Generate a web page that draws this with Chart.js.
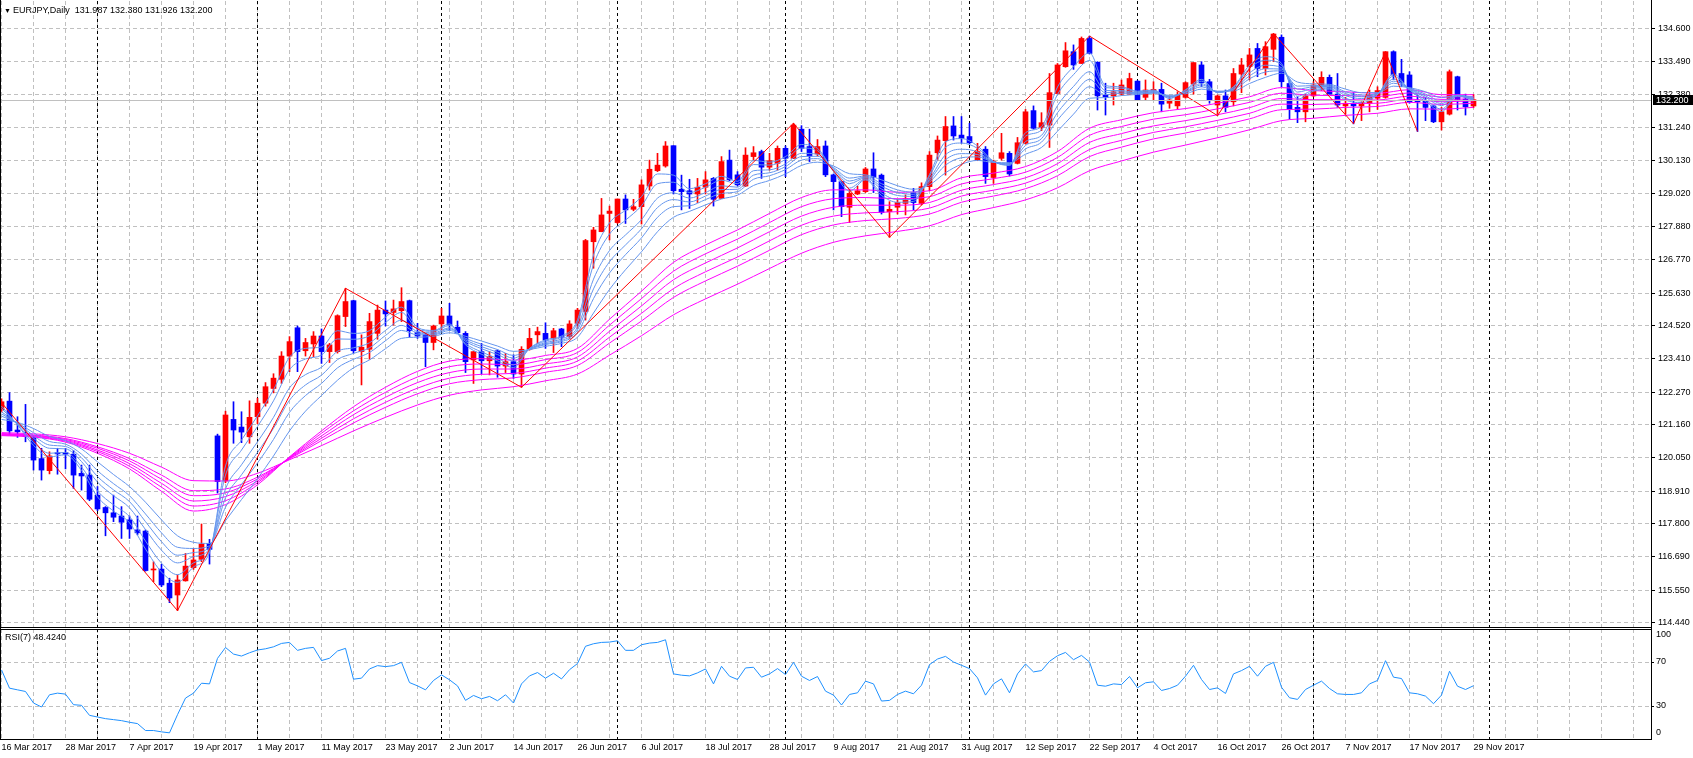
<!DOCTYPE html>
<html>
<head>
<meta charset="utf-8">
<title>EURJPY Daily</title>
<script src="https://cdn.jsdelivr.net/npm/chart.js@4.4.1/dist/chart.umd.min.js"></script>
<style>
  html, body { margin: 0; padding: 0; background: #fff; }
  #wrap { position: relative; width: 1693px; height: 758px; overflow: hidden; background: #fff; }
  #mainChart { position: absolute; left: 0; top: 0; }
  #rsiChart { position: absolute; left: 0; top: 628px; }
</style>
</head>
<body>
<div id="wrap">
  <canvas id="mainChart" width="1693" height="629"></canvas>
  <canvas id="rsiChart" width="1693" height="130"></canvas>
</div>
<script>
// EURJPY daily, 16 Mar 2017 .. 29 Nov 2017, one entry per bar
const open = [
  121.67, 121.97, 120.99, 120.82, 120.76, 120.02, 119.61, 120.22, 120.22, 120.17,
  119.52, 119.46, 118.78, 118.36, 118.18, 118.07, 117.94, 117.60, 117.56, 116.24,
  116.27, 115.79, 115.39, 115.87, 116.32, 116.60, 117.14, 120.79, 119.26, 121.35,
  121.09, 120.76, 121.44, 121.90, 122.40, 122.71, 123.50, 124.46, 123.68, 123.91,
  124.18, 123.65, 123.65, 124.84, 125.38, 123.65, 123.73, 124.27, 125.06, 124.98,
  125.04, 125.38, 124.31, 124.22, 123.96, 124.59, 124.86, 124.48, 124.27, 123.37,
  123.65, 123.34, 123.68, 123.16, 123.31, 122.89, 123.73, 124.22, 124.27, 124.10,
  124.42, 124.16, 124.61, 125.01, 127.38, 127.72, 128.34, 128.03, 128.83, 128.48,
  128.57, 129.27, 129.79, 129.95, 130.64, 129.16, 129.11, 129.00, 129.23, 129.53,
  128.85, 130.15, 129.65, 129.27, 130.27, 130.44, 129.91, 130.04, 130.55, 130.21,
  131.20, 130.61, 130.36, 130.63, 129.65, 129.42, 128.55, 129.00, 129.08, 129.85,
  129.64, 128.40, 128.55, 128.68, 129.05, 128.68, 129.25, 130.40, 130.81, 131.31,
  131.00, 130.95, 130.15, 130.52, 129.56, 130.21, 130.38, 130.04, 130.72, 131.83,
  131.26, 131.34, 132.41, 133.32, 133.83, 133.43, 134.28, 133.47, 132.35, 132.33,
  132.39, 132.39, 132.83, 132.28, 132.50, 132.55, 132.08, 131.99, 132.28, 132.73,
  133.38, 132.81, 132.02, 132.33, 132.13, 133.07, 133.32, 133.94, 133.26, 133.91,
  134.32, 132.75, 131.94, 131.79, 132.33, 132.66, 132.96, 132.39, 131.99, 132.05,
  131.99, 132.08, 132.25, 132.28, 133.83, 133.09, 133.04, 132.17, 132.17, 131.99,
  131.45, 131.71, 132.98, 132.22, 131.987
];
const high = [
  122.05, 122.26, 121.44, 121.86, 120.80, 120.37, 120.25, 120.37, 120.37, 120.29,
  119.80, 119.80, 119.07, 118.39, 118.78, 118.39, 118.07, 118.07, 117.60, 116.52,
  116.43, 115.96, 116.07, 116.80, 116.97, 117.80, 117.28, 120.85, 121.63, 121.95,
  121.61, 121.98, 122.07, 122.60, 122.90, 123.65, 124.16, 124.52, 124.10, 124.33,
  124.42, 123.93, 124.90, 125.80, 125.40, 124.22, 124.95, 125.23, 125.37, 125.40,
  125.82, 125.40, 124.61, 124.27, 124.55, 125.12, 125.29, 124.69, 124.33, 123.65,
  123.93, 123.65, 123.71, 123.59, 123.54, 123.82, 124.44, 124.48, 124.63, 124.44,
  124.44, 124.70, 125.12, 127.46, 127.87, 128.85, 128.59, 128.83, 128.97, 128.82,
  129.48, 130.15, 130.38, 130.78, 130.64, 129.64, 129.50, 129.53, 129.76, 129.56,
  130.27, 130.49, 129.76, 130.57, 130.61, 130.49, 130.38, 130.63, 130.63, 131.40,
  131.32, 131.20, 130.85, 130.80, 129.68, 129.42, 129.14, 129.27, 129.90, 130.40,
  129.68, 128.74, 128.82, 128.97, 129.19, 129.38, 130.44, 130.97, 131.63, 131.63,
  131.63, 131.40, 130.72, 130.61, 130.15, 131.06, 130.44, 130.92, 131.87, 131.99,
  131.76, 133.09, 133.43, 134.14, 134.06, 134.33, 134.36, 133.49, 132.76, 132.76,
  132.87, 133.10, 132.85, 132.87, 132.81, 132.76, 132.33, 132.47, 132.81, 133.46,
  133.49, 132.89, 132.36, 132.53, 133.26, 133.60, 133.94, 134.11, 134.17, 134.45,
  134.40, 132.87, 132.30, 132.39, 132.81, 133.15, 133.04, 133.09, 132.28, 132.44,
  132.13, 132.53, 132.64, 133.83, 133.86, 133.57, 133.15, 132.36, 132.28, 132.02,
  131.94, 133.21, 133.00, 132.39, 132.380
];
const low = [
  121.60, 120.82, 120.74, 120.59, 119.63, 119.29, 119.50, 119.49, 119.67, 119.01,
  118.95, 118.59, 118.25, 117.40, 117.88, 117.31, 117.31, 117.43, 116.20, 115.84,
  115.67, 115.13, 114.86, 115.86, 116.26, 116.52, 116.44, 118.85, 119.20, 120.54,
  120.56, 120.54, 121.20, 121.80, 122.25, 122.57, 122.97, 122.97, 123.50, 123.48,
  123.25, 123.28, 123.60, 124.50, 123.60, 122.52, 123.39, 124.07, 124.52, 124.55,
  124.67, 124.14, 124.10, 123.14, 123.71, 124.38, 124.38, 124.27, 122.94, 122.57,
  122.89, 122.86, 122.78, 122.94, 122.74, 122.44, 123.70, 123.93, 123.76, 123.62,
  123.82, 124.10, 124.44, 124.72, 126.48, 127.72, 127.44, 128.00, 128.00, 128.43,
  127.98, 129.13, 129.76, 129.91, 129.00, 128.46, 128.51, 128.71, 129.00, 128.59,
  128.85, 129.45, 129.27, 129.25, 130.15, 129.53, 129.81, 129.81, 129.59, 130.20,
  130.44, 130.10, 130.29, 129.59, 128.46, 128.23, 128.03, 128.98, 129.05, 129.05,
  128.32, 127.53, 128.32, 128.29, 128.46, 128.63, 129.11, 130.15, 129.64, 130.83,
  130.72, 130.70, 130.13, 129.36, 129.36, 130.15, 129.61, 130.02, 130.70, 131.20,
  131.15, 130.58, 132.39, 133.30, 133.23, 133.43, 133.75, 131.85, 131.68, 132.02,
  132.36, 132.39, 132.17, 132.19, 132.19, 131.79, 131.91, 131.87, 132.25, 132.39,
  132.64, 132.08, 131.66, 131.79, 131.99, 132.44, 132.87, 132.98, 133.04, 133.49,
  132.64, 131.54, 131.42, 131.45, 132.30, 132.51, 132.39, 131.94, 131.71, 131.38,
  131.49, 131.79, 131.87, 132.25, 132.89, 132.64, 132.08, 131.12, 131.49, 131.42,
  131.17, 131.68, 131.85, 131.68, 131.926
];
const close = [
  121.95, 120.96, 120.93, 120.77, 119.97, 119.63, 120.11, 120.18, 120.17, 119.46,
  119.43, 118.64, 118.31, 118.18, 118.03, 117.86, 117.63, 117.50, 116.22, 116.26,
  115.73, 115.29, 115.90, 116.37, 116.58, 117.12, 116.94, 119.24, 121.50, 120.99,
  120.92, 121.42, 121.90, 122.46, 122.75, 123.50, 123.99, 123.65, 123.96, 124.18,
  123.65, 123.88, 124.87, 125.35, 123.68, 123.80, 124.67, 125.06, 124.93, 125.10,
  125.35, 124.36, 124.18, 123.96, 124.52, 124.86, 124.55, 124.29, 123.31, 123.65,
  123.34, 123.48, 123.16, 123.31, 122.89, 123.73, 124.10, 124.33, 124.05, 124.36,
  124.14, 124.59, 125.06, 127.42, 127.78, 128.29, 128.42, 128.83, 128.46, 128.57,
  129.31, 129.84, 129.98, 130.63, 129.11, 129.08, 129.00, 129.23, 129.48, 128.82,
  130.10, 129.48, 129.31, 130.32, 130.40, 129.91, 130.13, 130.55, 130.21, 131.34,
  130.55, 130.29, 130.61, 129.65, 129.42, 128.57, 129.02, 129.11, 129.85, 129.57,
  128.37, 128.48, 128.71, 128.85, 128.71, 129.25, 130.32, 130.83, 131.29, 130.97,
  130.89, 130.74, 130.44, 129.59, 130.10, 130.40, 129.68, 130.74, 131.79, 131.23,
  131.42, 132.44, 133.38, 133.86, 133.38, 134.28, 133.77, 132.33, 132.30, 132.47,
  132.70, 132.92, 132.19, 132.53, 132.55, 132.05, 132.19, 132.36, 132.78, 133.46,
  132.78, 132.19, 132.33, 131.94, 133.09, 133.38, 133.72, 133.26, 134.00, 134.43,
  132.81, 131.87, 131.79, 132.33, 132.70, 132.96, 132.39, 132.02, 132.08, 131.99,
  132.10, 132.36, 132.51, 133.83, 133.04, 132.78, 132.13, 132.13, 131.94, 131.45,
  131.79, 133.15, 132.17, 131.96, 132.200
];

// RSI(7), one value per bar
const rsi = [
  62.8, 46.2, 44.7, 43.2, 32.7, 29.1, 40.2, 41.7, 40.8, 31.2,
  30.6, 21.5, 20.0, 18.5, 17.6, 16.7, 15.2, 14.0, 7.7, 7.7,
  6.5, 5.6, 22.1, 37.2, 41.7, 50.7, 50.1, 73.3, 83.2, 77.2,
  75.4, 78.4, 80.9, 82.0, 83.8, 86.9, 87.8, 80.6, 82.4, 83.3,
  71.3, 73.4, 80.0, 82.4, 54.4, 55.3, 63.7, 66.7, 65.8, 66.7,
  69.7, 51.3, 48.3, 44.7, 53.2, 58.3, 53.8, 48.3, 35.1, 39.6,
  36.6, 38.7, 34.8, 40.2, 32.7, 50.1, 57.4, 60.4, 55.3, 59.8,
  54.6, 63.0, 68.6, 84.3, 86.6, 87.8, 88.1, 89.3, 80.6, 80.6,
  85.7, 87.2, 87.8, 90.2, 59.2, 58.0, 57.4, 60.1, 63.7, 50.1,
  66.1, 57.1, 54.1, 64.6, 65.2, 56.2, 59.2, 64.0, 58.6, 69.7,
  57.1, 53.2, 56.8, 43.5, 39.9, 30.9, 40.5, 42.0, 52.6, 50.1,
  34.5, 35.1, 40.5, 43.5, 41.1, 48.9, 67.6, 72.7, 75.1, 70.0,
  67.0, 64.0, 55.6, 39.9, 50.1, 54.7, 42.0, 59.2, 68.2, 61.0,
  62.2, 70.6, 75.7, 78.7, 72.1, 76.0, 70.0, 48.9, 48.0, 50.1,
  49.5, 56.8, 46.5, 51.1, 52.0, 44.1, 45.9, 48.9, 57.1, 67.0,
  54.1, 45.0, 46.5, 41.4, 59.2, 62.2, 66.1, 57.1, 66.1, 69.7,
  47.1, 37.5, 36.0, 45.0, 48.9, 52.6, 45.9, 41.1, 40.5, 40.5,
  42.0, 50.1, 53.2, 71.2, 56.2, 55.0, 42.0, 41.1, 39.0, 32.1,
  39.9, 61.6, 48.0, 45.0, 48.424
];

// fast moving averages, read every 2nd bar (bars 0, 2, 4 ... 184)
const ema3 = [
  121.80, 121.16, 120.47, 120.08, 120.15, 119.62, 118.72, 118.24, 117.84, 116.95,
  116.17, 115.82, 116.34, 116.83, 119.77, 120.65, 121.47, 122.36, 123.46, 123.76,
  123.81, 124.36, 124.27, 124.36, 124.82, 125.16, 124.47, 124.37, 124.59, 123.88,
  123.56, 123.34, 123.11, 123.76, 124.05, 124.18, 124.73, 126.93, 128.02, 128.45,
  128.91, 129.68, 129.64, 129.18, 129.35, 129.60, 129.43, 130.14, 130.08, 130.27,
  130.68, 130.55, 129.76, 129.10, 129.48, 128.95, 128.72, 128.75, 129.66, 130.77,
  130.88, 130.63, 130.11, 129.97, 131.08, 131.29, 132.63, 133.32, 133.79, 132.68,
  132.64, 132.49, 132.53, 132.24, 132.54, 132.89, 132.44, 132.64, 133.37, 133.66,
  133.43, 132.22, 132.49, 132.56, 132.19, 132.10, 132.37, 133.07, 132.53, 132.14,
  131.80, 132.33, 132.18
];
const ema5 = [
  121.72, 121.18, 120.57, 120.20, 120.23, 119.74, 118.92, 118.45, 118.05, 117.22,
  116.47, 116.08, 116.48, 116.88, 119.46, 120.31, 121.11, 121.98, 123.04, 123.40,
  123.53, 124.08, 124.07, 124.19, 124.64, 124.98, 124.41, 124.34, 124.54, 123.93,
  123.64, 123.42, 123.20, 123.75, 124.01, 124.14, 124.63, 126.60, 127.64, 128.11,
  128.60, 129.35, 129.40, 129.05, 129.23, 129.47, 129.35, 130.00, 129.98, 130.17,
  130.56, 130.47, 129.79, 129.20, 129.51, 129.04, 128.81, 128.82, 129.60, 130.59,
  130.73, 130.55, 130.10, 129.99, 130.96, 131.17, 132.38, 133.05, 133.53, 132.61,
  132.59, 132.47, 132.51, 132.26, 132.52, 132.83, 132.45, 132.62, 133.27, 133.54,
  133.37, 132.32, 132.53, 132.59, 132.25, 132.16, 132.38, 133.00, 132.54, 132.20,
  131.88, 132.33, 132.20
];
const ema8 = [
  121.61, 121.20, 120.71, 120.37, 120.35, 119.92, 119.22, 118.76, 118.35, 117.61,
  116.91, 116.48, 116.69, 116.96, 118.99, 119.81, 120.59, 121.42, 122.42, 122.87,
  123.12, 123.66, 123.78, 123.95, 124.37, 124.72, 124.33, 124.29, 124.46, 124.00,
  123.75, 123.55, 123.34, 123.74, 123.96, 124.08, 124.48, 126.11, 127.08, 127.61,
  128.13, 128.86, 129.04, 128.86, 129.05, 129.28, 129.23, 129.79, 129.82, 130.02,
  130.38, 130.35, 129.84, 129.35, 129.55, 129.17, 128.95, 128.92, 129.51, 130.33,
  130.52, 130.43, 130.09, 130.01, 130.78, 130.99, 132.00, 132.65, 133.15, 132.51,
  132.51, 132.44, 132.48, 132.29, 132.48, 132.75, 132.46, 132.58, 133.11, 133.37,
  133.29, 132.46, 132.59, 132.63, 132.34, 132.24, 132.40, 132.90, 132.56, 132.28,
  132.00, 132.34, 132.23
];
const ema10 = [
  121.54, 121.21, 120.80, 120.48, 120.43, 120.05, 119.41, 118.96, 118.56, 117.88,
  117.20, 116.74, 116.83, 117.01, 118.69, 119.47, 120.23, 121.05, 122.00, 122.52,
  122.85, 123.38, 123.59, 123.78, 124.20, 124.54, 124.28, 124.25, 124.42, 124.05,
  123.82, 123.63, 123.43, 123.74, 123.92, 124.03, 124.39, 125.78, 126.70, 127.27,
  127.82, 128.54, 128.81, 128.73, 128.93, 129.15, 129.16, 129.64, 129.72, 129.93,
  130.27, 130.28, 129.87, 129.44, 129.58, 129.26, 129.05, 128.99, 129.46, 130.16,
  130.37, 130.34, 130.09, 130.02, 130.65, 130.88, 131.76, 132.38, 132.89, 132.44,
  132.47, 132.43, 132.47, 132.30, 132.46, 132.70, 132.47, 132.56, 133.01, 133.25,
  133.24, 132.56, 132.64, 132.65, 132.41, 132.30, 132.41, 132.83, 132.58, 132.33,
  132.07, 132.34, 132.24
];
const ema12 = [
  121.46, 121.23, 120.90, 120.60, 120.51, 120.17, 119.61, 119.17, 118.76, 118.14,
  117.50, 117.01, 116.97, 117.06, 118.37, 119.14, 119.87, 120.67, 121.59, 122.16,
  122.57, 123.10, 123.39, 123.62, 124.02, 124.37, 124.22, 124.22, 124.37, 124.10,
  123.90, 123.72, 123.52, 123.73, 123.89, 123.99, 124.29, 125.45, 126.32, 126.94,
  127.51, 128.21, 128.57, 128.60, 128.81, 129.02, 129.08, 129.50, 129.62, 129.83,
  130.15, 130.20, 129.90, 129.54, 129.61, 129.35, 129.14, 129.06, 129.40, 129.98,
  130.23, 130.26, 130.08, 130.04, 130.53, 130.76, 131.51, 132.11, 132.64, 132.37,
  132.42, 132.41, 132.45, 132.32, 132.44, 132.64, 132.48, 132.54, 132.91, 133.14,
  133.18, 132.66, 132.68, 132.68, 132.47, 132.36, 132.42, 132.76, 132.59, 132.39,
  132.15, 132.35, 132.26
];
const ema15 = [
  121.35, 121.25, 121.04, 120.77, 120.63, 120.35, 119.91, 119.48, 119.07, 118.54,
  117.94, 117.40, 117.18, 117.14, 117.91, 118.63, 119.34, 120.11, 120.96, 121.63,
  122.16, 122.68, 123.10, 123.37, 123.75, 124.10, 124.14, 124.17, 124.29, 124.17,
  124.01, 123.84, 123.66, 123.72, 123.83, 123.93, 124.14, 124.96, 125.76, 126.43,
  127.04, 127.72, 128.21, 128.41, 128.63, 128.83, 128.96, 129.29, 129.46, 129.68,
  129.97, 130.08, 129.95, 129.69, 129.65, 129.48, 129.28, 129.16, 129.31, 129.72,
  130.01, 130.14, 130.07, 130.06, 130.35, 130.58, 131.13, 131.71, 132.25, 132.27,
  132.34, 132.38, 132.42, 132.35, 132.40, 132.56, 132.49, 132.50, 132.75, 132.96,
  133.10, 132.80, 132.74, 132.72, 132.56, 132.44, 132.44, 132.66, 132.61, 132.47,
  132.27, 132.35, 132.29
];

// slow moving averages, read every 4th bar (bars 0, 4, 8 ... 184)
const ema30 = [
  120.80, 120.75, 120.58, 120.20, 119.67, 118.91, 118.24, 118.46, 119.13, 120.08,
  120.96, 121.78, 122.44, 122.98, 123.33, 123.41, 123.36, 123.52, 123.76, 124.75,
  125.70, 126.68, 127.27, 127.78, 128.34, 128.88, 129.14, 129.14, 129.06, 129.11,
  129.55, 129.71, 129.93, 130.44, 131.23, 131.52, 131.76, 131.90, 132.08, 132.30,
  132.61, 132.51, 132.47, 132.42, 132.54, 132.37, 132.37
];
const ema35 = [
  120.82, 120.77, 120.61, 120.26, 119.76, 119.05, 118.41, 118.59, 119.20, 120.06,
  120.88, 121.64, 122.27, 122.79, 123.14, 123.23, 123.21, 123.38, 123.62, 124.55,
  125.45, 126.38, 126.97, 127.47, 128.03, 128.57, 128.84, 128.88, 128.84, 128.91,
  129.34, 129.52, 129.74, 130.24, 130.99, 131.29, 131.54, 131.69, 131.89, 132.11,
  132.42, 132.35, 132.34, 132.31, 132.43, 132.29, 132.30
];
const ema40 = [
  120.83, 120.79, 120.64, 120.31, 119.85, 119.18, 118.58, 118.73, 119.26, 120.05,
  120.79, 121.51, 122.10, 122.60, 122.94, 123.06, 123.06, 123.23, 123.47, 124.34,
  125.20, 126.09, 126.66, 127.17, 127.72, 128.25, 128.55, 128.62, 128.62, 128.71,
  129.13, 129.32, 129.55, 130.03, 130.75, 131.05, 131.31, 131.49, 131.69, 131.93,
  132.24, 132.20, 132.20, 132.19, 132.32, 132.21, 132.23
];
const ema45 = [
  120.85, 120.81, 120.67, 120.37, 119.94, 119.32, 118.76, 118.86, 119.33, 120.03,
  120.71, 121.37, 121.93, 122.41, 122.75, 122.88, 122.91, 123.09, 123.33, 124.14,
  124.95, 125.79, 126.36, 126.86, 127.41, 127.94, 128.25, 128.36, 128.40, 128.52,
  128.93, 129.13, 129.37, 129.83, 130.51, 130.82, 131.09, 131.28, 131.50, 131.74,
  132.05, 132.04, 132.07, 132.08, 132.22, 132.13, 132.16
];
const ema50 = [
  120.87, 120.82, 120.70, 120.42, 120.02, 119.46, 118.93, 118.99, 119.39, 120.01,
  120.63, 121.23, 121.76, 122.22, 122.56, 122.70, 122.76, 122.95, 123.18, 123.94,
  124.69, 125.49, 126.05, 126.55, 127.09, 127.62, 127.95, 128.10, 128.17, 128.32,
  128.72, 128.93, 129.18, 129.62, 130.27, 130.59, 130.87, 131.07, 131.30, 131.55,
  131.86, 131.88, 131.94, 131.97, 132.11, 132.04, 132.08
];
const ema60 = [
  120.90, 120.86, 120.76, 120.53, 120.20, 119.73, 119.27, 119.26, 119.52, 119.98,
  120.46, 120.96, 121.42, 121.84, 122.17, 122.35, 122.46, 122.66, 122.89, 123.53,
  124.19, 124.90, 125.44, 125.94, 126.47, 126.99, 127.36, 127.58, 127.73, 127.92,
  128.30, 128.54, 128.80, 129.21, 129.79, 130.12, 130.42, 130.66, 130.91, 131.18,
  131.49, 131.57, 131.67, 131.74, 131.89, 131.88, 131.94
];

// zigzag turning points (bar index, price); the first one lies just left of the view
const zigzagBars = [-1, 22, 43, 65, 99, 111, 136, 152, 159, 169, 173, 177];
const zigzagPrices = [122.24, 114.86, 125.80, 122.44, 131.40, 127.53, 134.36, 131.66, 134.45, 131.38, 133.83, 131.12];

// axis texts
const dateLabels = [
  '16 Mar 2017', '28 Mar 2017', '7 Apr 2017', '19 Apr 2017', '1 May 2017', '11 May 2017',
  '23 May 2017', '2 Jun 2017', '14 Jun 2017', '26 Jun 2017', '6 Jul 2017', '18 Jul 2017',
  '28 Jul 2017', '9 Aug 2017', '21 Aug 2017', '31 Aug 2017', '12 Sep 2017', '22 Sep 2017',
  '4 Oct 2017', '16 Oct 2017', '26 Oct 2017', '7 Nov 2017', '17 Nov 2017', '29 Nov 2017'
];
const priceTicks = [
  134.600, 133.490, 132.380, 131.240, 130.130, 129.020, 127.880, 126.770, 125.630, 124.520,
  123.410, 122.270, 121.160, 120.050, 118.910, 117.800, 116.690, 115.550, 114.440
];
const rsiTicks = [100, 70, 30, 0];
const monthStartBars = [12, 32, 55, 77, 98, 121, 142, 164, 186]; // 3 Apr .. 1 Dec
const symbol = 'EURJPY,Daily';

// ---------------------------------------------------------------
const FONT = '"Liberation Sans", Arial, sans-serif';
const GRID = '#c0c0c0';
const UP = '#ff0000';
const DOWN = '#0000ff';
const FAST = '#6495ed';
const SLOW = '#ff00ff';

const X_MIN = -0.1875, X_MAX = 206.1875;       // 8 px per bar
const P_MIN = 114.3042, P_MAX = 135.5503;

Chart.defaults.font.family = FONT;
Chart.defaults.font.size = 9;
Chart.defaults.color = '#000';

const last = close.length - 1;
const barIdx = close.map((_, i) => i);
const fastBars = ema3.map((_, k) => k * 2);
const slowBars = ema30.map((_, k) => k * 4);
const gridBars = [];
for (let b = 0; b <= 206; b += 4) gridBars.push(b);

function pts(xs, ys) {
  return ys.map((y, k) => ({ x: xs[k], y: y }));
}
function lineSet(label, xs, ys, color, order, smooth) {
  return {
    type: 'line', label: label, data: pts(xs, ys),
    borderColor: color, borderWidth: 1, pointRadius: 0, fill: false,
    tension: 0, cubicInterpolationMode: smooth ? 'monotone' : 'default', order: order
  };
}

const candleColors = close.map((c, i) => (c >= open[i] ? UP : DOWN));

const mtPanel = {
  id: 'mtPanel',
  beforeDatasetsDraw(chart) {
    const { ctx, chartArea: a, scales: { x } } = chart;
    ctx.save();
    ctx.strokeStyle = '#000';
    ctx.lineWidth = 1;
    ctx.setLineDash([3, 3]);
    monthStartBars.forEach(b => {
      const px = Math.floor(x.getPixelForValue(b)) + 0.5;
      if (px > a.right) return;
      ctx.beginPath();
      ctx.moveTo(px, a.top);
      ctx.lineTo(px, a.bottom);
      ctx.stroke();
    });
    ctx.restore();
  },
  afterDraw(chart, args, opts) {
    const { ctx, chartArea: a } = chart;
    const y = chart.scales.y;
    ctx.save();
    ctx.strokeStyle = '#000';
    ctx.lineWidth = 1;
    ctx.setLineDash([]);
    ctx.beginPath();
    ctx.moveTo(0.5, 0); ctx.lineTo(0.5, a.bottom + 1);
    ctx.moveTo(a.right + 0.5, 0); ctx.lineTo(a.right + 0.5, a.bottom + 1);
    ctx.moveTo(0, a.bottom + 0.5); ctx.lineTo(a.right + 1, a.bottom + 0.5);
    if (opts.kind === 'rsi') { ctx.moveTo(0, a.top + 0.5); ctx.lineTo(a.right + 1, a.top + 0.5); }
    ctx.stroke();

    ctx.font = '9px ' + FONT;
    ctx.textBaseline = 'middle';
    ctx.textAlign = 'left';
    ctx.fillStyle = '#000';

    if (opts.kind === 'main') {
      // bid line and price marker
      const by = Math.round(y.getPixelForValue(close[last])) + 0.5;
      ctx.strokeStyle = GRID;
      ctx.beginPath();
      ctx.moveTo(1, by); ctx.lineTo(a.right, by);
      ctx.stroke();
      ctx.fillStyle = '#000';
      ctx.fillRect(a.right + 2, by - 5.5, chart.width - a.right - 2, 10);
      ctx.fillStyle = '#fff';
      ctx.fillText(close[last].toFixed(3), a.right + 5, by);

      ctx.fillStyle = '#000';
      ctx.font = '7px ' + FONT;
      ctx.fillText('\u25BC', 4, 11);
      ctx.font = '9px ' + FONT;
      ctx.fillText(symbol + '  ' + [open[last], high[last], low[last], close[last]]
        .map(v => v.toFixed(3)).join(' '), 13, 11);
    } else {
      rsiTicks.forEach(v => {
        let py = y.getPixelForValue(v);
        if (v === 100) py += 6;
        if (v === 0) py -= 6;
        ctx.fillText(String(v), a.right + 5, py);
      });
      ctx.fillText('RSI(7) ' + rsi[last].toFixed(4), 5, 10);
    }
    ctx.restore();
  }
};

const commonX = {
  type: 'linear', min: X_MIN, max: X_MAX, offset: false,
  afterBuildTicks: s => { s.ticks = gridBars.map(v => ({ value: v })); },
  grid: { color: GRID, drawTicks: false, offset: false, borderDash: [4, 3] },
  border: { display: false, dash: [4, 3] }
};

// main price panel
new Chart(document.getElementById('mainChart'), {
  type: 'line',
  data: {
    datasets: [
      lineSet('ZigZag', zigzagBars, zigzagPrices, UP, 0, false),
      lineSet('EMA3', fastBars, ema3, FAST, 1, true),
      lineSet('EMA5', fastBars, ema5, FAST, 1, true),
      lineSet('EMA8', fastBars, ema8, FAST, 1, true),
      lineSet('EMA10', fastBars, ema10, FAST, 1, true),
      lineSet('EMA12', fastBars, ema12, FAST, 1, true),
      lineSet('EMA15', fastBars, ema15, FAST, 1, true),
      lineSet('EMA30', slowBars, ema30, SLOW, 2, true),
      lineSet('EMA35', slowBars, ema35, SLOW, 2, true),
      lineSet('EMA40', slowBars, ema40, SLOW, 2, true),
      lineSet('EMA45', slowBars, ema45, SLOW, 2, true),
      lineSet('EMA50', slowBars, ema50, SLOW, 2, true),
      lineSet('EMA60', slowBars, ema60, SLOW, 2, true),
      {
        type: 'bar', label: 'Body', order: 3, grouped: false,
        data: barIdx.map(i => ({ x: i, y: [open[i], close[i]] })),
        backgroundColor: candleColors, barThickness: 5, minBarLength: 1, borderWidth: 0
      },
      {
        type: 'bar', label: 'Wick', order: 4, grouped: false,
        data: barIdx.map(i => ({ x: i, y: [low[i], high[i]] })),
        backgroundColor: candleColors, barThickness: 1, minBarLength: 1, borderWidth: 0
      }
    ]
  },
  options: {
    responsive: false, maintainAspectRatio: false, animation: false,
    devicePixelRatio: 1, events: [],
    layout: { padding: { top: 1, bottom: 2, left: 0, right: 0 } },
    plugins: { legend: { display: false }, tooltip: { enabled: false }, mtPanel: { kind: 'main' } },
    scales: {
      x: Object.assign({}, commonX, {
        ticks: { display: false },
        afterFit: s => { s.height = 0; s.paddingLeft = 0; s.paddingRight = 0; }
      }),
      y: {
        type: 'linear', position: 'right', min: P_MIN, max: P_MAX,
        afterBuildTicks: s => { s.ticks = priceTicks.map(v => ({ value: v })); },
        ticks: { padding: 3, color: '#000', font: { size: 9 }, callback: v => Number(v).toFixed(3) },
        grid: { color: GRID, tickColor: '#000', tickLength: 4, borderDash: [4, 3] },
        border: { display: false, dash: [4, 3] },
        afterFit: s => { s.width = 42; s.paddingTop = 0; s.paddingBottom = 0; }
      }
    }
  },
  plugins: [mtPanel]
});

// RSI panel
new Chart(document.getElementById('rsiChart'), {
  type: 'line',
  data: {
    datasets: [lineSet('RSI(7)', barIdx, rsi, '#1e90ff', 0, false)]
  },
  options: {
    responsive: false, maintainAspectRatio: false, animation: false,
    devicePixelRatio: 1, events: [],
    layout: { padding: { top: 1, bottom: 0, left: 0, right: 0 } },
    plugins: { legend: { display: false }, tooltip: { enabled: false }, mtPanel: { kind: 'rsi' } },
    scales: {
      x: Object.assign({}, commonX, {
        ticks: {
          display: true, autoSkip: false, maxRotation: 0, minRotation: 0, align: 'start',
          padding: 3, color: '#000', font: { size: 9 },
          callback: v => (v % 8 === 0 && dateLabels[v / 8]) ? dateLabels[v / 8] : ''
        },
        afterFit: s => { s.height = 19; s.paddingLeft = 0; s.paddingRight = 0; }
      }),
      y: {
        type: 'linear', position: 'right', min: 0, max: 100,
        afterBuildTicks: s => { s.ticks = [30, 70].map(v => ({ value: v })); },
        ticks: { display: false },
        grid: { color: GRID, tickColor: '#000', tickLength: 3, borderDash: [4, 3] },
        border: { display: false, dash: [4, 3] },
        afterFit: s => { s.width = 42; s.paddingTop = 0; s.paddingBottom = 0; }
      }
    }
  },
  plugins: [mtPanel]
});
</script>
</body>
</html>
